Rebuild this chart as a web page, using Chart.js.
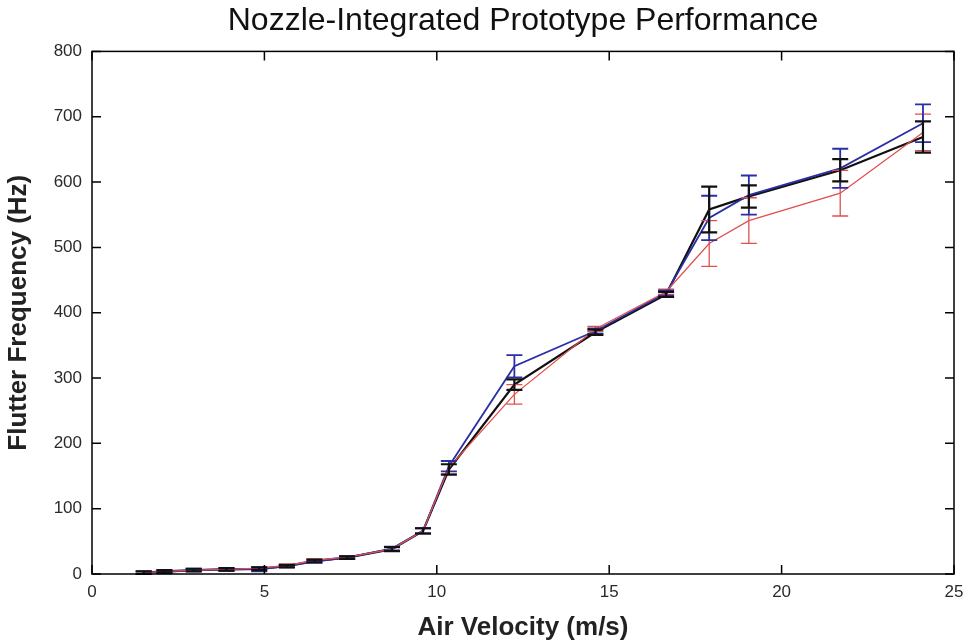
<!DOCTYPE html>
<html>
<head>
<meta charset="utf-8">
<script src="https://cdn.jsdelivr.net/npm/chart.js@4/dist/chart.umd.min.js"></script>
<style>
  html, body { margin: 0; padding: 0; background: #fff; }
  #wrap { width: 964px; height: 643px; }
</style>
</head>
<body>
<div id="wrap"><canvas id="grafica" width="964" height="643"></canvas></div>
<script>
// air velocity (m/s) of each measurement
const velocidad = [1.5, 2.1, 2.95, 3.9, 4.85, 5.65, 6.45, 7.4, 8.7, 9.6, 10.35, 12.25, 14.6, 16.65, 17.9, 19.05, 21.7, 24.1];

// flutter frequency (Hz) per run
const frecRoja  = [2, 4, 6, 7, 9, 13, 21, 26, 38, 66, 163, 275, 375, 432, 506, 541, 583, 676];
const frecAzul  = [2, 3, 6, 7, 7, 12, 19, 25, 39, 66, 165, 318, 372, 430, 545, 580, 621, 690];
const frecNegra = [2, 4, 6, 7, 8, 12, 20, 25, 38, 66, 160, 290, 370, 428, 558, 578, 618, 669];

// half-height of error bars (Hz)
const errRoja  = [2, 2, 2, 2, 2, 2, 2, 2, 3, 4, 10, 15, 4, 4, 35, 35, 35, 28];
const errAzul  = [2, 2, 2, 2, 3, 2, 2, 2, 3, 4, 8, 17, 4, 4, 34, 30, 30, 29];
const errNegra = [2, 2, 2, 2, 2, 2, 2, 2, 3, 4, 8, 8, 4, 4, 35, 17, 17, 24];

const ticksX = [0, 5, 10, 15, 20, 25];
const ticksY = [0, 100, 200, 300, 400, 500, 600, 700, 800];

const fuente = 'Liberation Sans, Arial, sans-serif';

function puntos(ys) {
    return velocidad.map((x, i) => ({ x: x, y: ys[i] }));
}

function serie(ys, errs, color, ancho) {
    return {
        data: puntos(ys),
        errores: errs,
        borderColor: color,
        borderWidth: ancho,
        pointRadius: 0,
        fill: false,
        tension: 0
    };
}

// error bars drawn from the scales
const barrasError = {
    id: 'barrasError',
    afterDatasetsDraw(chart) {
        const ctx = chart.ctx;
        const sx = chart.scales.x, sy = chart.scales.y;
        chart.data.datasets.forEach(ds => {
            ctx.save();
            ctx.strokeStyle = ds.borderColor;
            ctx.lineWidth = ds.borderWidth;
            ds.data.forEach((p, i) => {
                const px = sx.getPixelForValue(p.x);
                const top = sy.getPixelForValue(p.y + ds.errores[i]);
                const bot = sy.getPixelForValue(p.y - ds.errores[i]);
                ctx.beginPath();
                ctx.moveTo(px, top); ctx.lineTo(px, bot);
                ctx.moveTo(px - 8, top); ctx.lineTo(px + 8, top);
                ctx.moveTo(px - 8, bot); ctx.lineTo(px + 8, bot);
                ctx.stroke();
            });
            ctx.restore();
        });
    }
};

// box frame with inward ticks
const marco = {
    id: 'marco',
    afterDraw(chart) {
        const ctx = chart.ctx;
        const a = chart.chartArea;
        const sx = chart.scales.x, sy = chart.scales.y;
        ctx.save();
        ctx.strokeStyle = '#000';
        ctx.lineWidth = 1.5;
        ctx.strokeRect(a.left, a.top, a.right - a.left, a.bottom - a.top);
        ctx.beginPath();
        ticksX.forEach(v => {
            const px = sx.getPixelForValue(v);
            ctx.moveTo(px, a.bottom); ctx.lineTo(px, a.bottom - 9);
            ctx.moveTo(px, a.top); ctx.lineTo(px, a.top + 9);
        });
        ticksY.forEach(v => {
            const py = sy.getPixelForValue(v);
            ctx.moveTo(a.left, py); ctx.lineTo(a.left + 9, py);
            ctx.moveTo(a.right, py); ctx.lineTo(a.right - 9, py);
        });
        ctx.stroke();
        ctx.restore();
    }
};

const ctx = document.getElementById('grafica').getContext('2d');

new Chart(ctx, {
    type: 'line',
    data: {
        datasets: [
            serie(frecRoja, errRoja, '#e0504f', 1.3),
            serie(frecAzul, errAzul, '#2b2fa6', 1.8),
            serie(frecNegra, errNegra, '#111111', 2.2)
        ]
    },
    options: {
        responsive: false,
        animation: false,
        layout: { padding: { left: 0, right: 0, top: 2, bottom: 0 } },
        plugins: {
            legend: { display: false },
            tooltip: { enabled: false },
            title: {
                display: true,
                text: 'Nozzle-Integrated Prototype Performance',
                fullSize: false,
                color: '#111',
                font: { family: fuente, size: 32, weight: 'normal' },
                padding: { top: 0, bottom: 11 }
            }
        },
        scales: {
            x: {
                type: 'linear',
                min: 0,
                max: 25,
                afterBuildTicks(scale) { scale.ticks = ticksX.map(v => ({ value: v })); },
                afterFit(scale) {
                    scale.height = 69;
                    scale.paddingRight = 10;
                },
                grid: { display: false, drawTicks: false },
                border: { display: false },
                ticks: {
                    padding: 8,
                    color: '#2a2a2a',
                    font: { family: fuente, size: 17 }
                },
                title: {
                    display: true,
                    text: 'Air Velocity (m/s)',
                    color: '#222',
                    font: { family: fuente, size: 26, weight: 'bold' },
                    padding: { top: 0, bottom: 0 }
                }
            },
            y: {
                min: 0,
                max: 800,
                afterBuildTicks(scale) { scale.ticks = ticksY.map(v => ({ value: v })); },
                afterFit(scale) { scale.width = 92; },
                grid: { display: false, drawTicks: false },
                border: { display: false },
                ticks: {
                    padding: 10,
                    color: '#2a2a2a',
                    font: { family: fuente, size: 17 }
                },
                title: {
                    display: true,
                    text: 'Flutter Frequency (Hz)',
                    color: '#222',
                    font: { family: fuente, size: 26, weight: 'bold' },
                    padding: { top: 3, bottom: 0 }
                }
            }
        }
    },
    plugins: [barrasError, marco]
});
</script>
</body>
</html>
